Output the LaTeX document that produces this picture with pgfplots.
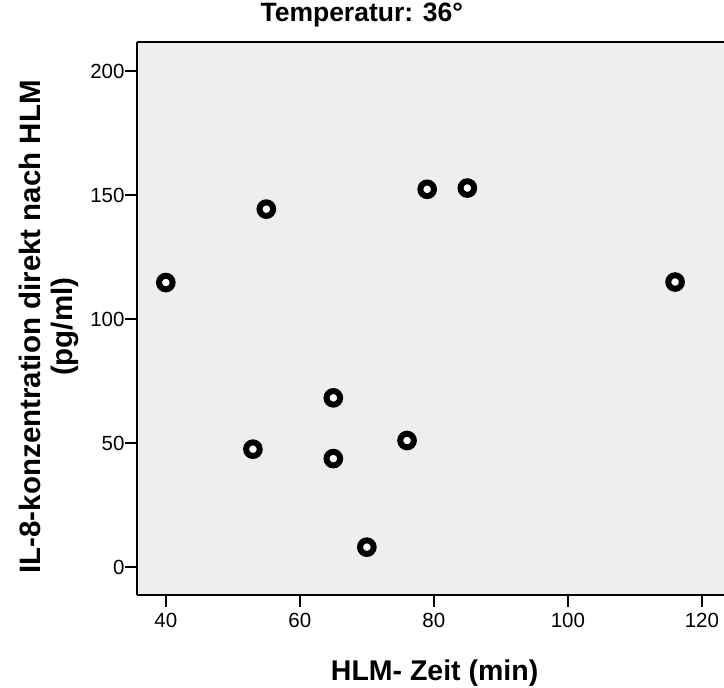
\documentclass[border=0pt]{standalone}
\usepackage{pgfplots}
\pgfplotsset{compat=1.18}
\usepackage{fontspec}
\setmainfont{Liberation Sans}
\usetikzlibrary{calc}
\definecolor{bgc}{RGB}{238,238,238}
\begin{document}
\begin{tikzpicture}
\begin{axis}[
  scale only axis,
  width=587pt, height=553pt,
  xmin=35.7, xmax=123.3,
  ymin=-11.3, ymax=211.7,
  axis lines*=left,
  axis line style={-, line width=1.6pt},
  axis background/.style={fill=bgc},
  xtick={40,60,80,100,120},
  ytick={0,50,100,150,200},
  tick align=outside,
  major tick length=12pt,
  tick style={line width=1.6pt, black},
  /pgf/number format/assume math mode=true,
  ticklabel style={font=\fontsize{20.5}{22}\selectfont},
  xticklabel style={yshift=-3pt},
  yticklabel style={xshift=3pt},
  xlabel={HLM- Zeit (min)},
  xlabel style={font=\bfseries\fontsize{28.5}{31}\selectfont, at={(0.507,0)}, anchor=base, yshift=-85pt},
  ylabel={IL-8-konzentration direkt nach HLM\\(pg/ml)},
  ylabel style={font=\bfseries\fontsize{29.5}{32}\selectfont, align=center, at={(0,0.485)}, anchor=center, yshift=88pt},
  title={Temperatur: 36°},
  title style={font=\bfseries\fontsize{26.5}{28}\selectfont, at={(0.383,1)}, anchor=base, yshift=14pt},
  clip=false,
]
\draw[line width=1.6pt] (rel axis cs:0,1) -- (rel axis cs:1,1);
\addplot[only marks, mark=*, mark size=6.8pt, line width=6pt, draw=black, fill=white] coordinates {
(40,114.7) (55,144.3) (79,152.3) (85,152.8) (116,114.9)
(65,68.2) (53,47.5) (65,43.7) (76,51) (70,8)
};
\end{axis}
\pgfresetboundingbox
\path ($(current axis.south west)+(-137pt,-92pt)$) rectangle ($(current axis.north east)+(0pt,42pt)$);
\end{tikzpicture}
\end{document}
